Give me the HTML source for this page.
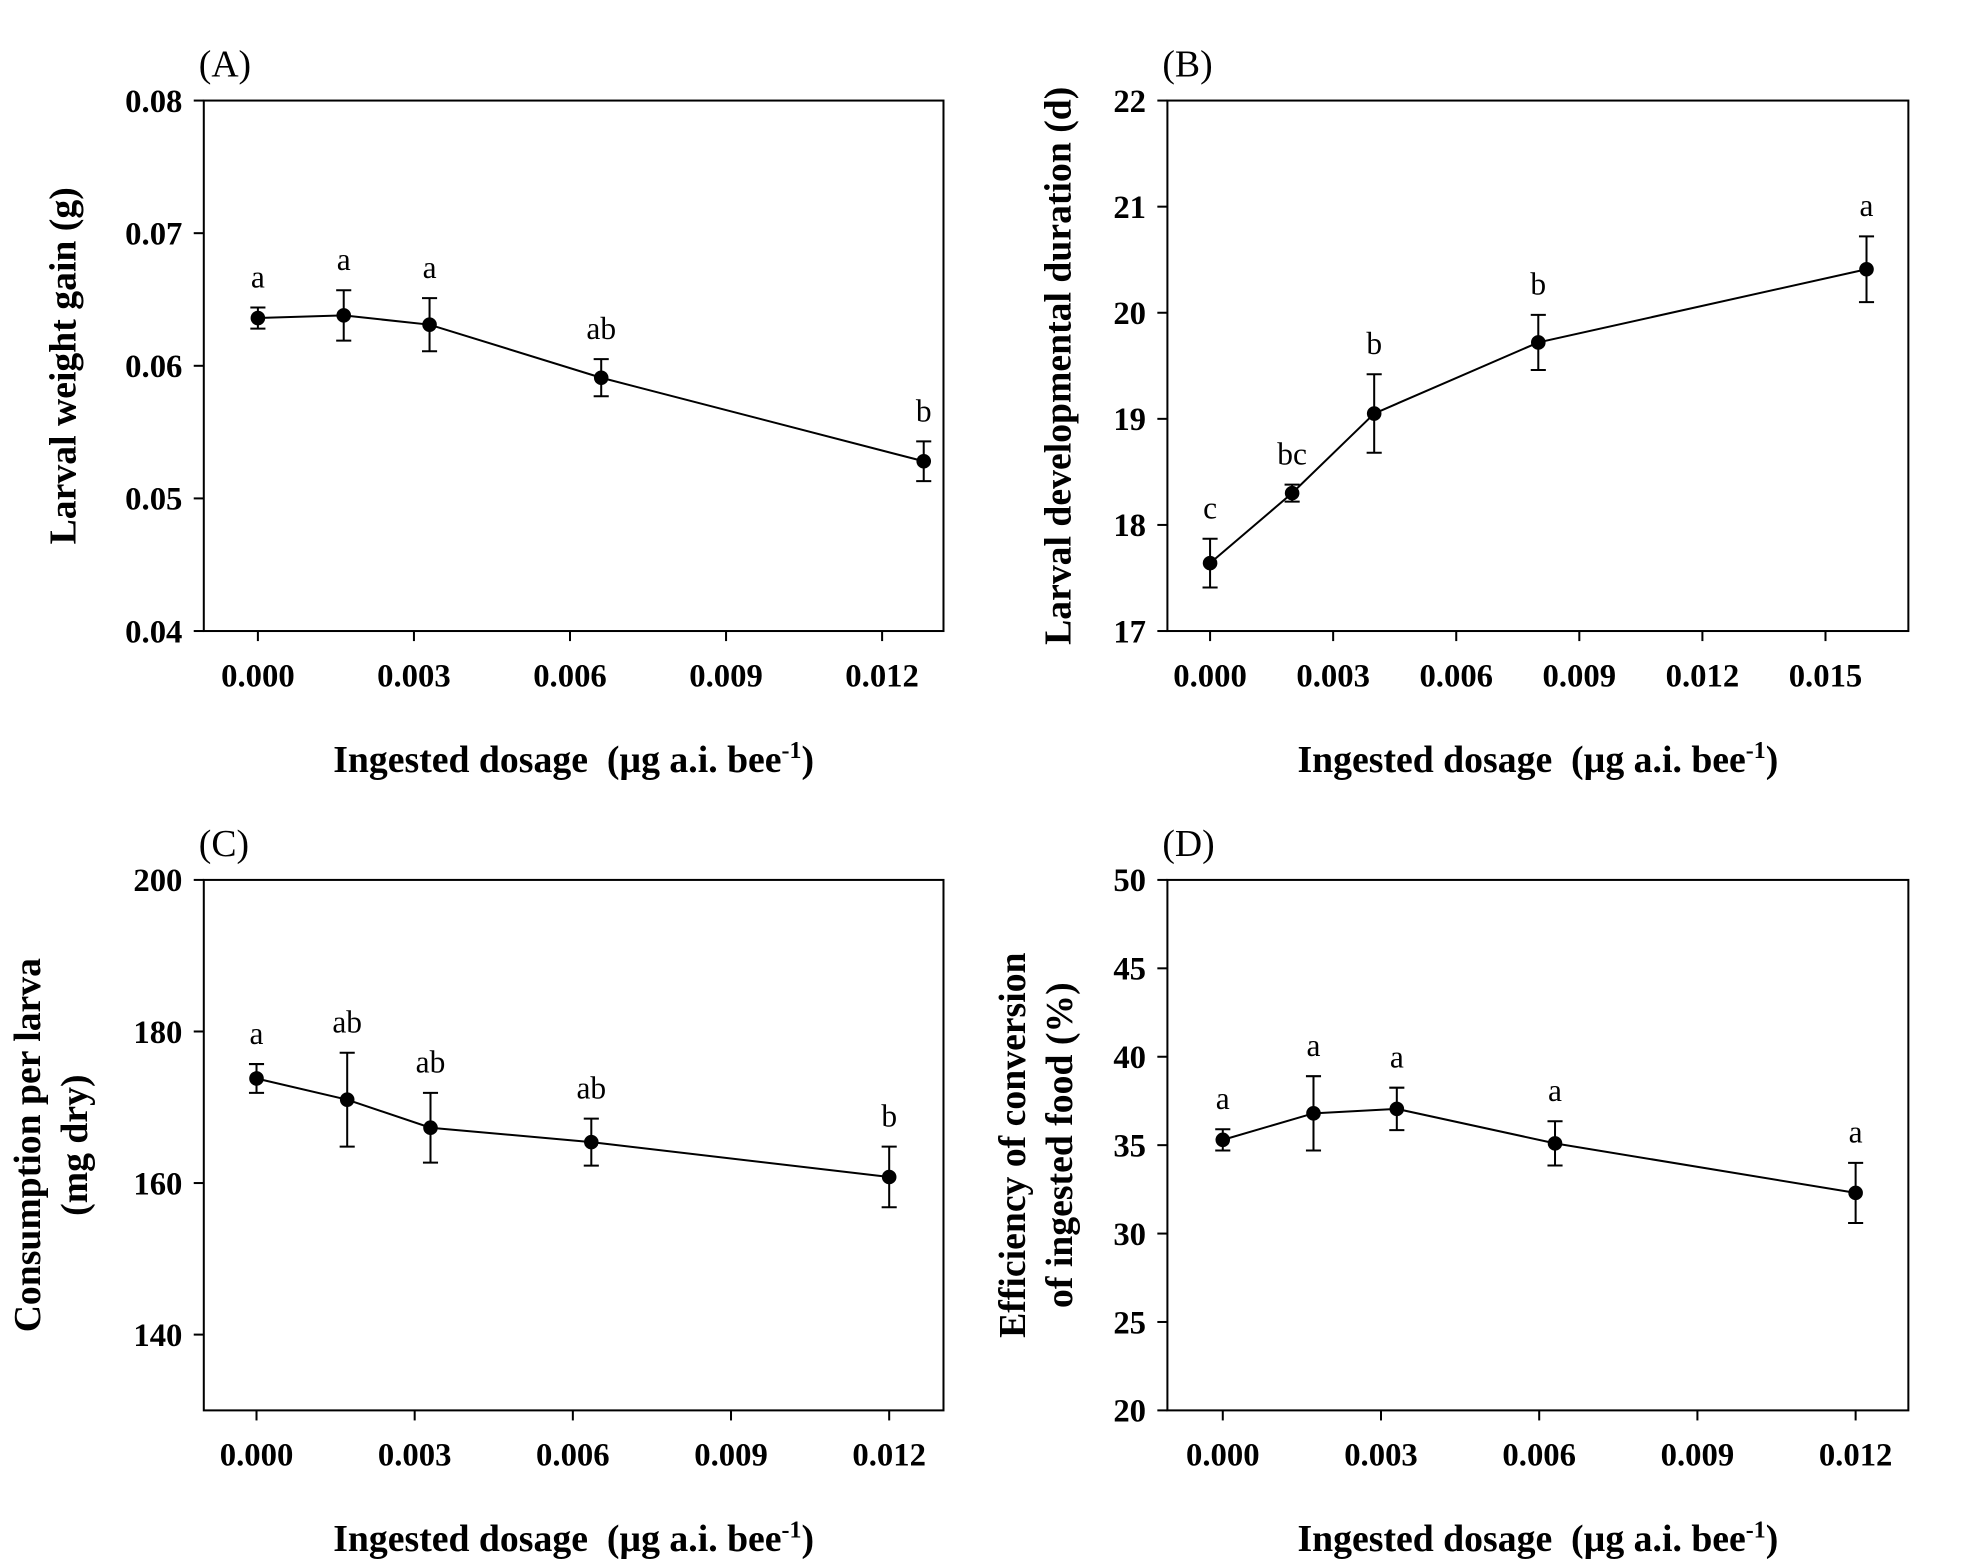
<!DOCTYPE html>
<html><head><meta charset="utf-8"><style>
html,body{margin:0;padding:0;background:#fff;}
svg{display:block;}
text{font-family:"Liberation Serif",serif;fill:#000;}
</style></head><body>
<svg id="chart" width="1970" height="1565" viewBox="0 0 1566 1245" preserveAspectRatio="none" xmlns="http://www.w3.org/2000/svg"></svg>
<script>
// Panel A
const aX = [0, 0.00165, 0.0033, 0.0066, 0.0128];
const aY = [0.0636, 0.0638, 0.0631, 0.0591, 0.0528];
const aErr = [0.0008, 0.0019, 0.0020, 0.0014, 0.0015];
const aLetters = ["a", "a", "a", "ab", "b"];
const aYTicks = [0.04, 0.05, 0.06, 0.07, 0.08];
const aYTickLabels = ["0.04", "0.05", "0.06", "0.07", "0.08"];
const aXTicks = [0, 0.003, 0.006, 0.009, 0.012];
const aXTickLabels = ["0.000", "0.003", "0.006", "0.009", "0.012"];
// Panel B
const bX = [0, 0.002, 0.004, 0.008, 0.016];
const bY = [17.64, 18.30, 19.05, 19.72, 20.41];
const bErr = [0.23, 0.08, 0.37, 0.26, 0.31];
const bLetters = ["c", "bc", "b", "b", "a"];
const bYTicks = [17, 18, 19, 20, 21, 22];
const bYTickLabels = ["17", "18", "19", "20", "21", "22"];
const bXTicks = [0, 0.003, 0.006, 0.009, 0.012, 0.015];
const bXTickLabels = ["0.000", "0.003", "0.006", "0.009", "0.012", "0.015"];
// Panel C
const cX = [0, 0.00172, 0.0033, 0.00635, 0.012];
const cY = [173.8, 171.0, 167.3, 165.4, 160.8];
const cErr = [1.9, 6.2, 4.6, 3.1, 4.0];
const cLetters = ["a", "ab", "ab", "ab", "b"];
const cYTicks = [140, 160, 180, 200];
const cYTickLabels = ["140", "160", "180", "200"];
const cXTicks = [0, 0.003, 0.006, 0.009, 0.012];
const cXTickLabels = ["0.000", "0.003", "0.006", "0.009", "0.012"];
// Panel D
const dX = [0, 0.00172, 0.0033, 0.0063, 0.012];
const dY = [35.3, 36.8, 37.05, 35.1, 32.3];
const dErr = [0.6, 2.1, 1.2, 1.25, 1.7];
const dLetters = ["a", "a", "a", "a", "a"];
const dYTicks = [20, 25, 30, 35, 40, 45, 50];
const dYTickLabels = ["20", "25", "30", "35", "40", "45", "50"];
const dXTicks = [0, 0.003, 0.006, 0.009, 0.012];
const dXTickLabels = ["0.000", "0.003", "0.006", "0.009", "0.012"];

const NS = "http://www.w3.org/2000/svg";
const svg = document.getElementById("chart");
function mk(tag, attrs, parent, txt) {
  const e = document.createElementNS(NS, tag);
  for (const k in attrs) e.setAttribute(k, attrs[k]);
  if (txt !== undefined) e.textContent = txt;
  (parent || svg).appendChild(e);
  return e;
}

function panel(id, box, xd, yd, xs, ys, errs, letters, yT, yTL, xT, xTL, label, ytitle, ytx) {
  const g = mk("g", {});
  
  
  const X = v => box.x0 + (v - xd[0]) / (xd[1] - xd[0]) * (box.x1 - box.x0);
  const Y = v => box.y1 - (v - yd[0]) / (yd[1] - yd[0]) * (box.y1 - box.y0);
  const frame = mk("rect", {x: box.x0, y: box.y0, width: box.x1 - box.x0, height: box.y1 - box.y0, fill: "none", stroke: "#000", "stroke-width": 1.6}, g);
  
  
  const pl = mk("text", {x: box.x0 - 4, y: box.y0 - 19, "font-size": 30}, g, label);
  
  
  yT.forEach((t, i) => {
    const y = Y(t);
    mk("line", {x1: box.x0 - 8, x2: box.x0, y1: y, y2: y, stroke: "#000", "stroke-width": 1.6}, g);
    const tl = mk("text", {x: box.x0 - 17, y: y + 9, "font-size": 26, "font-weight": "bold", "text-anchor": "end"}, g, yTL[i]);
    
    
  });
  xT.forEach((t, i) => {
    const x = X(t);
    mk("line", {x1: x, x2: x, y1: box.y1, y2: box.y1 + 8, stroke: "#000", "stroke-width": 1.6}, g);
    const tl = mk("text", {x: x, y: box.y1 + 44, "font-size": 26, "font-weight": "bold", "text-anchor": "middle"}, g, xTL[i]);
    
    
  });
  const pts = xs.map((v, i) => X(v) + "," + Y(ys[i])).join(" ");
  const line = mk("polyline", {points: pts, fill: "none", stroke: "#000", "stroke-width": 1.6}, g);
  
  
  xs.forEach((v, i) => {
    const x = X(v), y = Y(ys[i]), yt = Y(ys[i] + errs[i]), yb = Y(ys[i] - errs[i]);
    const eb = mk("path", {d: `M${x},${yt}V${yb}M${x-6},${yt}H${x+6}M${x-6},${yb}H${x+6}`, stroke: "#000", "stroke-width": 1.6, fill: "none"}, g);
    
    
    const c = mk("circle", {cx: x, cy: y, r: 5.8, fill: "#000"}, g);
    
    
    const lt = mk("text", {x: x, y: yt - 16, "font-size": 25, "text-anchor": "middle"}, g, letters[i]);
    
    
  });
  const cx = (box.x0 + box.x1) / 2;
  const xt = mk("text", {x: cx, y: box.y1 + 112, "font-size": 30, "font-weight": "bold", "text-anchor": "middle"}, g);
  
  
  mk("tspan", {}, xt, "Ingested dosage\u00a0\u00a0(\u00b5g a.i. bee");
  mk("tspan", {dy: -11, "font-size": 19}, xt, "-1");
  mk("tspan", {dy: 11}, xt, ")");
  const cy = (box.y0 + box.y1) / 2;
  ytitle.forEach((t, i) => {
    const yx = ytx + i * 37;
    const yt2 = mk("text", {x: yx, y: cy, "font-size": 30, "font-weight": "bold", "text-anchor": "middle", transform: `rotate(-90 ${yx} ${cy})`}, g, t);
    
    
  });
}

panel("a", {x0: 162, x1: 750, y0: 80, y1: 502}, [-0.00104, 0.01318], [0.04, 0.08], aX, aY, aErr, aLetters, aYTicks, aYTickLabels, aXTicks, aXTickLabels, "(A)", ["Larval weight gain (g)"], 60);
panel("b", {x0: 928, x1: 1517, y0: 80, y1: 502}, [-0.00104, 0.01702], [17, 22], bX, bY, bErr, bLetters, bYTicks, bYTickLabels, bXTicks, bXTickLabels, "(B)", ["Larval developmental duration (d)"], 851);
panel("c", {x0: 162, x1: 750, y0: 700, y1: 1122}, [-0.001, 0.01303], [130, 200], cX, cY, cErr, cLetters, cYTicks, cYTickLabels, cXTicks, cXTickLabels, "(C)", ["Consumption per larva", "(mg dry)"], 32);
panel("d", {x0: 928, x1: 1517, y0: 700, y1: 1122}, [-0.00105, 0.0130], [20, 50], dX, dY, dErr, dLetters, dYTicks, dYTickLabels, dXTicks, dXTickLabels, "(D)", ["Efficiency of conversion", "of ingested food (%)"], 815);
</script>
</body></html>
